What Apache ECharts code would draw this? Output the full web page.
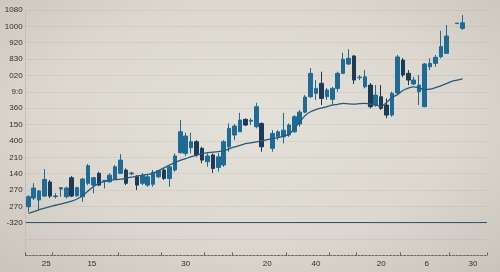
<!DOCTYPE html>
<html>
<head>
<meta charset="utf-8">
<script src="https://cdn.jsdelivr.net/npm/echarts@6/dist/echarts.min.js"></script>
<style>
  html,body{margin:0;padding:0;}
  body{width:500px;height:272px;background:radial-gradient(ellipse 75% 80% at 50% 45%, #e4e1da 0%, #dcd8cf 55%, #c7c2b8 100%);}
  #chart{width:500px;height:272px;}
</style>
</head>
<body>
<div id="chart"></div>
<script>
// ---- data ----
var slotCount = 85;
// [open, close, low, high]; null = empty slot
var candles = [
  [98,159,67,169],[151,212,139,242],[139,194,77,200],[163,265,157,328],[249,163,151,261],
  [160,164,148,181],[206,214,159,218],[159,212,149,220],[275,163,157,285],[165,214,159,220],
  [159,267,128,275],[241,348,230,359],[230,275,180,279],[302,230,224,312],[255,259,210,261],
  [250,291,247,302],[265,342,261,353],[302,383,298,420],[322,241,230,332],[299,304,291,312],
  [281,230,200,291],[241,291,230,304],[230,281,220,291],[235,308,220,322],[281,318,273,322],
  [322,271,261,332],[271,342,220,353],[322,408,312,424],[428,556,424,628],[424,530,408,550],
  [458,495,424,550],[495,414,403,505],[455,383,363,464],[373,408,342,424],[414,332,305,424],
  [338,403,312,426],[353,495,342,505],[464,577,434,607],[536,591,505,603],[556,628,554,672],
  [632,597,591,638],[621,626,597,638],[587,709,577,733],[607,464,434,612],null,
  [455,546,434,566],[525,556,505,566],[525,566,485,672],[536,597,525,607],[556,648,548,658],
  [603,676,587,689],[676,768,670,780],[770,913,762,945],[791,821,750,872],[852,760,719,923],
  [770,811,750,823],[754,821,719,831],[821,913,801,923],[913,999,909,1039],[970,1005,964,1060],
  [1019,872,848,1025],[886,890,872,903],[831,892,821,933],[841,709,699,854],[719,780,709,841],
  [770,699,689,841],[719,658,638,760],[658,791,648,801],[793,1013,780,1025],[994,903,890,1007],
  [913,872,841,933],[848,872,841,892],[801,841,719,903],[709,970,707,976],[953,974,933,1005],
  [974,1011,953,1025],[1014,1076,1005,1173],[1035,1141,1034,1208],null,[1217,1220,1214,1220],
  [1188,1222,1178,1269]
];
var maValues = [
  57,68,80,90,98,107,115,123,132,145,166,194,222,241,252,261,263,266,273,279,
  285,290,296,302,319,335,353,368,381,392,404,414,423,428,432,435,439,452,463,473,
  483,488,494,500,508,514,520,530,540,576,615,655,678,691,701,710,719,724,730,727,
  725,728,729,725,720,711,735,765,783,808,823,830,823,814,816,826,837,850,864,872,879
];
var baseLine = [5];
var yTickLabels = ['-320','270','270','140','210','400','150','360','9:0','020','830','920','1000','1080'];
var xTickLabels = ['25','15','30','20','40','20','6','30'];
var xLabelSlots = [3.8,12.2,29.5,44.5,53.5,65.5,73.9,82.4];
var xTickSlots = [0,5,17,25,33,38,48,56,61,69,78];

// ---- build ----
var categories = [];
for (var i = 0; i < slotCount; i++) categories.push(String(i));
var candleData = candles.map(function(c){ return c ? c : ['-','-','-','-']; });
var labelMap = {};
xLabelSlots.forEach(function(s, k){ labelMap[s] = xTickLabels[k]; });

var chart = echarts.init(document.getElementById('chart'), null, {renderer:'canvas'});
chart.setOption({
  backgroundColor: 'transparent',
  animation: false,
  grid: {left: 25.6, right: 13, top: 10, bottom: 16.5, containLabel: false},
  xAxis: [
    {type:'category', data: categories, boundaryGap: true, position:'bottom',
     axisLine:{show:true, onZero:false, lineStyle:{color:'#6a6a66', type:[2,1.5], width:1}},
     axisTick:{show:true, inside:true, length:3, lineStyle:{color:'#5e5e5a', width:1},
       interval:function(idx){ return xTickSlots.indexOf(idx) >= 0; }},
     axisLabel:{show:false},
     splitLine:{show:false}},
    {type:'value', min: 0, max: slotCount, position:'bottom',
     axisLine:{show:false, onZero:false},
     axisTick:{show:false},
     axisLabel:{show:true, customValues: xLabelSlots, margin:4, fontSize:8, color:'#2e2e2e',
       fontFamily:'Liberation Sans', formatter:function(v){ return labelMap[v] || ''; }},
     splitLine:{show:false}}
  ],
  yAxis: {
    type:'value', min:-200, max:1300, interval:100,
    axisLine:{show:true, lineStyle:{color:'#c4c0b8'}},
    axisTick:{show:false},
    axisLabel:{margin:3, fontSize:8, color:'#2e2e2e', fontFamily:'Liberation Sans',
      formatter:function(v){ var k = Math.round(v/100); return (k>=0 && k<yTickLabels.length) ? yTickLabels[k] : ''; }},
    splitLine:{show:true, lineStyle:{color:'rgba(120,110,95,0.10)', width:1}}
  },
  series: [
    {type:'candlestick', xAxisIndex:0, yAxisIndex:0, data: candleData, barWidth: 4,
     itemStyle:{color:'#1f6b96', color0:'#1d3b56', borderColor:'#1f6b96', borderColor0:'#1d3b56', borderWidth:1},
     markLine:{silent:true, symbol:['none','none'], label:{show:false},
       lineStyle:{color:'#2e5877', width:1.2, type:'solid'},
       data: baseLine.map(function(v){ return {yAxis: v}; })}
    },
    {type:'line', xAxisIndex:0, yAxisIndex:0, data: maValues, showSymbol:false, smooth:0.3,
     lineStyle:{color:'#245a7c', width:1.3}, z:3}
  ]
});
</script>
</body>
</html>
